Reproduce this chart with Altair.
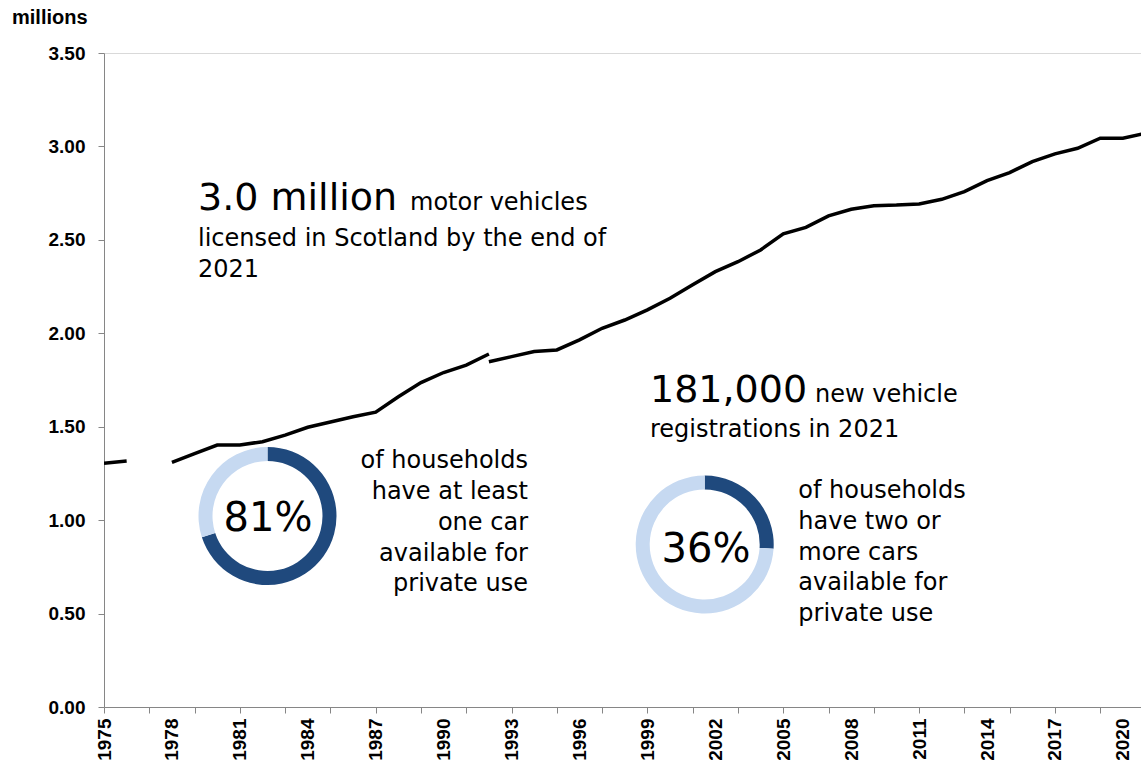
import altair as alt
import pandas as pd

# ---- data ----
years_old = list(range(1975, 1993))
values_old = [1.304, 1.316, None, 1.309, 1.356, 1.402, 1.402, 1.420, 1.455, 1.497,
              1.525, 1.553, 1.578, 1.660, 1.736, 1.790, 1.830, 1.889]
years_new = list(range(1992, 2022))
values_new = [1.848, 1.875, 1.902, 1.911, 1.965, 2.027, 2.071, 2.125, 2.187, 2.260,
              2.330, 2.383, 2.446, 2.532, 2.567, 2.628, 2.664, 2.683, 2.686, 2.692,
              2.717, 2.758, 2.817, 2.860, 2.919, 2.960, 2.990, 3.044, 3.044, 3.070]

y_ticks = [0.0, 0.5, 1.0, 1.5, 2.0, 2.5, 3.0, 3.5]
x_ticks = list(range(1975, 2021))

donut_labels = ["81%", "36%"]
donut_shares = [0.70, 0.26]  # filled share of each ring as drawn

headline_1 = ["3.0 million", "motor vehicles"]
headline_1_rest = ["licensed in Scotland by the end of", "2021"]
headline_2 = ["181,000", "new vehicle"]
headline_2_rest = ["registrations in 2021"]
donut_1_text = ["of households", "have at least", "one car", "available for", "private use"]
donut_2_text = ["of households", "have two or", "more cars", "available for", "private use"]
y_title = "millions"

DARK = "#1f497d"
LIGHT = "#c6d9f1"
AXIS_GREY = "#868686"
BODY_FONT = "DejaVu Sans"
AXIS_FONT = "Liberation Sans"

# ---- build tables ----
rows = []
seg = 0
for yr, v in zip(years_old, values_old):
    if v is None:
        seg += 1
        continue
    rows.append({"year": yr, "value": v, "seg": f"old{seg}"})
for yr, v in zip(years_new, values_new):
    rows.append({"year": yr, "value": v, "seg": "new"})
df = pd.DataFrame(rows)

one_row = pd.DataFrame({"k": [0]})

x_scale = alt.Scale(domain=[1975, 2020.8], nice=False, zero=False)
y_scale = alt.Scale(domain=[0, 3.5], nice=False)

line = alt.Chart(df).mark_line(color="black", strokeWidth=3.5, clip=True).encode(
    x=alt.X("year:Q", scale=x_scale, axis=alt.Axis(
        values=x_ticks, format="d",
        labelExpr="(datum.value - 1975) % 3 == 0 ? datum.label : ''",
        labelAngle=-90, labelFont=AXIS_FONT, labelFontWeight="bold", labelFontSize=19,
        labelColor="black", labelPadding=5, labelOverlap=False, labelFlush=False,
        tickSize=6, tickColor=AXIS_GREY,
        tickOpacity={"condition": {"test": "datum.value % 2 == 1", "value": 1}, "value": 0},
        domainColor=AXIS_GREY, grid=False, title=None)),
    y=alt.Y("value:Q", scale=y_scale, axis=alt.Axis(
        values=y_ticks, format=".2f",
        labelFont=AXIS_FONT, labelFontWeight="bold", labelFontSize=19, labelColor="black",
        labelPadding=13, tickSize=6, tickColor=AXIS_GREY, domainColor=AXIS_GREY,
        grid=True, gridColor="#d9d9d9",
        gridOpacity={"condition": {"test": "datum.value == 3.5", "value": 1}, "value": 0},
        title=None)),
    detail="seg:N",
)


def donut(share, cx, cy):
    d = pd.DataFrame({"part": ["filled", "rest"], "share": [share, 1 - share], "ord": [0, 1]})
    return alt.Chart(d).mark_arc(outerRadius=69, innerRadius=55).encode(
        theta=alt.Theta("share:Q", stack=True, scale=alt.Scale(domain=[0, 1])),
        color=alt.Color("part:N", scale=alt.Scale(domain=["filled", "rest"], range=[DARK, LIGHT]),
                        legend=None),
        order=alt.Order("ord:Q"),
        x=alt.value(cx), y=alt.value(cy),
    )


def label(text, x, y, size, align="left", baseline="alphabetic", weight="normal",
          font=BODY_FONT, line_height=None):
    props = dict(text=text, align=align, baseline=baseline, fontSize=size, font=font,
                 fontWeight=weight, color="black")
    if line_height is not None:
        props["lineHeight"] = line_height
    return alt.Chart(one_row).mark_text(**props).encode(x=alt.value(x), y=alt.value(y))


layers = [
    line,
    donut(donut_shares[0], 163.5, 463),
    donut(donut_shares[1], 600.7, 491.5),
    label(y_title, -92, -35, 20, baseline="middle", weight="bold", font=AXIS_FONT),
    label(headline_1[0], 94, 157, 38),
    label(headline_1[1], 306, 157, 24),
    label(headline_1_rest, 94, 193, 24, line_height=30.5),
    label(headline_2[0], 546, 348.7, 38),
    label(headline_2[1], 711, 348.7, 24),
    label(headline_2_rest, 546, 383.7, 24),
    label(donut_labels[0], 164, 466, 40, align="center", baseline="middle"),
    label(donut_labels[1], 602, 497, 40, align="center", baseline="middle"),
    label(donut_1_text, 424, 415.3, 24, align="right", line_height=30.8),
    label(donut_2_text, 694.3, 445.3, 24, align="left", line_height=30.7),
]

chart = alt.layer(*layers).properties(
    width=1037, height=654,
    autosize=alt.AutoSizeParams(type="none"),
    padding={"left": 104, "top": 53, "right": 0, "bottom": 56},
    background="white",
).configure_view(stroke=None)

chart.save("out.html", embed_options={"renderer": "svg", "actions": False})
